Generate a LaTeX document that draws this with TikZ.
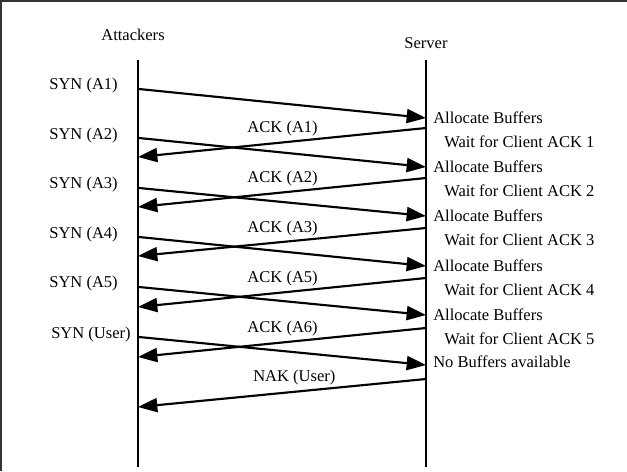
\documentclass[tikz,border=0pt]{standalone}
\usepackage{fontspec}
\setmainfont{Liberation Serif}
\usetikzlibrary{arrows.meta}
\begin{document}
\begin{tikzpicture}[x=0.75pt,y=-0.75pt,
  lbl/.style={inner sep=0pt,font=\fontsize{12.4}{14}\selectfont},
  life/.style={line width=2pt},
  msg/.style={line width=1.6pt,-{Triangle[length=14.5pt,width=10.5pt]}},
  frame/.style={draw=black!80,line width=1.5pt}]
\useasboundingbox (0,0) rectangle (627,471);
\draw[frame] (0.75,471) -- (0.75,0.75) -- (627,0.75);
% lifelines
\coordinate (atop) at (138,60);
\coordinate (abot) at (138,467);
\coordinate (stop) at (426,60);
\coordinate (sbot) at (426,467);
\draw[life] (atop) -- (abot);
\draw[life] (stop) -- (sbot);
\node[lbl] (att) at (133,35) {Attackers};
\node[lbl] (srv) at (426,43) {Server};
% SYN messages
\foreach \i/\ya/\yb/\t in {1/89/118/SYN (A1),2/138/167/SYN (A2),3/188/216/SYN (A3),4/237/266/SYN (A4),5/287/315/SYN (A5),6/337/365/SYN (User)}{
  \coordinate (sa\i) at (139,\ya);
  \coordinate (sb\i) at (426,\yb);
  \draw[msg] (sa\i) -- (sb\i);
}
\node[lbl,anchor=east] (syn1) at (118,86) {SYN (A1)};
\node[lbl,anchor=east] (syn2) at (118,136) {SYN (A2)};
\node[lbl,anchor=east] (syn3) at (118,185) {SYN (A3)};
\node[lbl,anchor=east] (syn4) at (118,235) {SYN (A4)};
\node[lbl,anchor=east] (syn5) at (118,284) {SYN (A5)};
\node[lbl,anchor=west] (syn6) at (51,335) {SYN (User)};
% ACK messages
\foreach \i/\ya/\yb in {1/128/157,2/178/207,3/228/256,4/278/307,5/328/357,6/379/407}{
  \coordinate (aa\i) at (426,\ya);
  \coordinate (ab\i) at (138,\yb);
  \draw[msg] (aa\i) -- (ab\i);
}
\node[lbl,anchor=east] (ack1) at (318,129) {ACK (A1)};
\node[lbl,anchor=east] (ack2) at (318,179) {ACK (A2)};
\node[lbl,anchor=east] (ack3) at (318,229) {ACK (A3)};
\node[lbl,anchor=east] (ack4) at (318,279) {ACK (A5)};
\node[lbl,anchor=east] (ack5) at (318,329) {ACK (A6)};
\node[lbl,anchor=west] (nak) at (253,378) {NAK (User)};
% server notes
\foreach \i/\y in {1/118,2/167,3/216,4/266,5/315}{
  \node[lbl,anchor=west] (al\i) at (433,\y) {Allocate Buffers};
}
\foreach \i/\y in {1/142,2/191,3/240,4/290,5/339}{
  \node[lbl,anchor=west] (wt\i) at (444,\y) {Wait for Client ACK \i};
}
\node[lbl,anchor=west] (nob) at (433,362) {No Buffers available};
\end{tikzpicture}
\end{document}
